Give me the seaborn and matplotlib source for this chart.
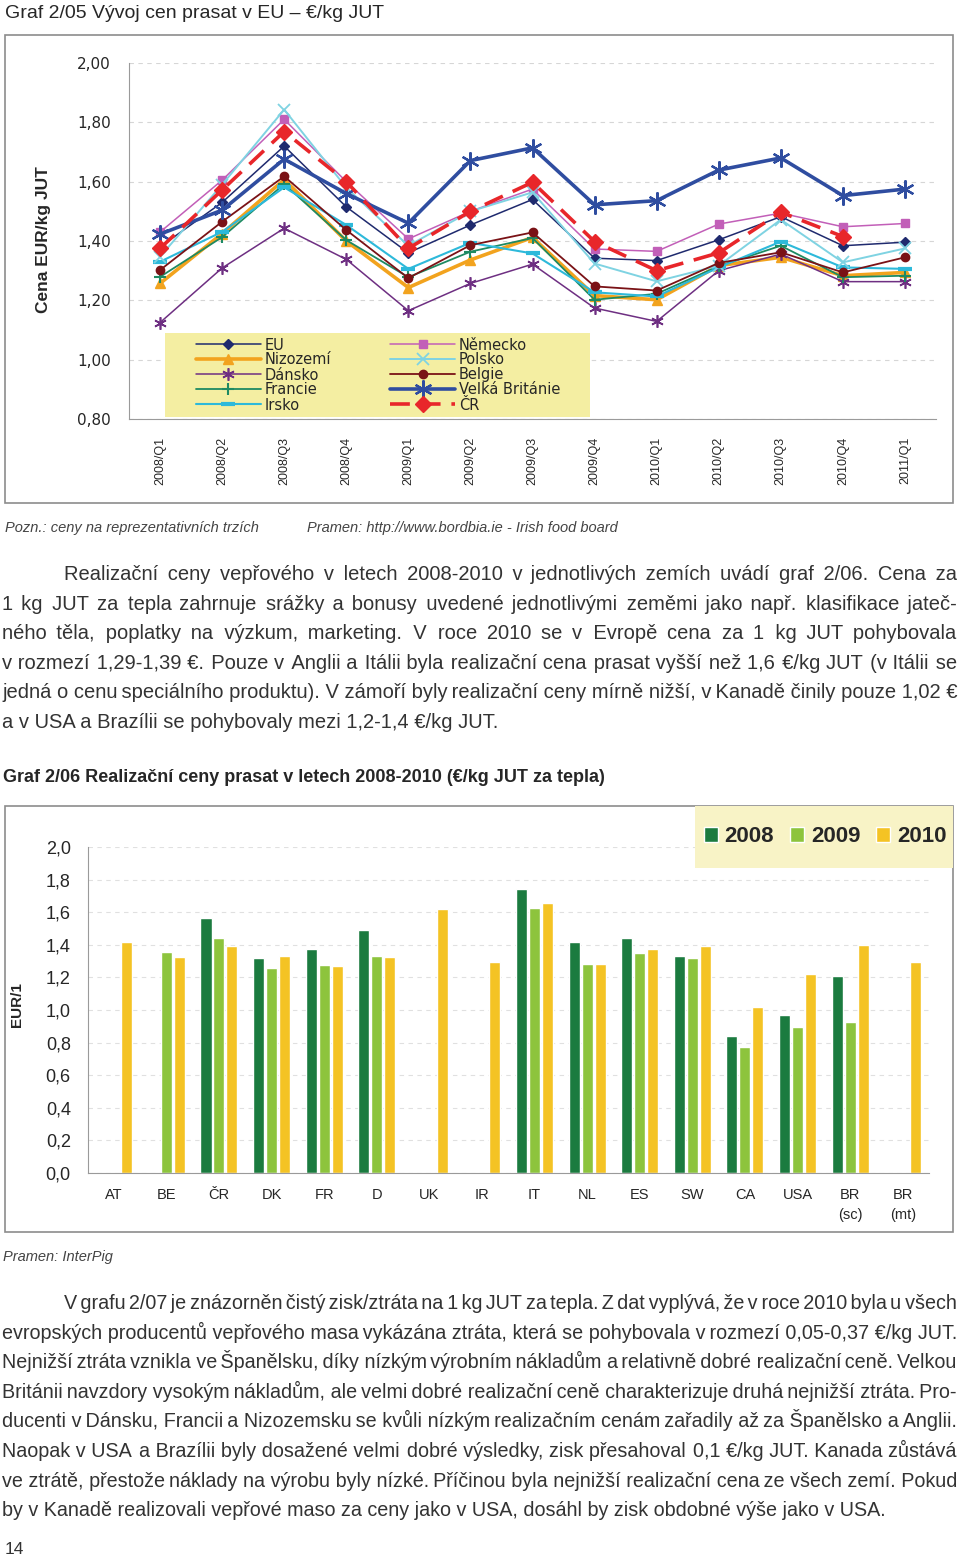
import numpy as np
import pandas as pd
import matplotlib
matplotlib.use("Agg")
import matplotlib.pyplot as plt
import seaborn as sns
from matplotlib.patches import Rectangle
from matplotlib.ticker import FuncFormatter

# ---- Graf 2/05: quarterly prices, EUR/kg ----
quarters = ["2008/Q1", "2008/Q2", "2008/Q3", "2008/Q4", "2009/Q1", "2009/Q2", "2009/Q3",
            "2009/Q4", "2010/Q1", "2010/Q2", "2010/Q3", "2010/Q4", "2011/Q1"]
eu = [1.38, 1.53, 1.72, 1.515, 1.36, 1.454, 1.54, 1.342, 1.334, 1.404, 1.482, 1.384, 1.396]
nizozemi = [1.257, 1.425, 1.607, 1.40, 1.243, 1.336, 1.412, 1.216, 1.202, 1.317, 1.345, 1.283, 1.294]
dansko = [1.125, 1.309, 1.443, 1.338, 1.165, 1.257, 1.322, 1.174, 1.129, 1.30, 1.356, 1.263, 1.263]
francie = [1.279, 1.413, 1.592, 1.403, 1.278, 1.364, 1.41, 1.202, 1.222, 1.315, 1.384, 1.278, 1.283]
irsko = [1.33, 1.431, 1.581, 1.454, 1.306, 1.394, 1.358, 1.227, 1.213, 1.311, 1.398, 1.311, 1.306]
nemecko = [1.43, 1.605, 1.81, 1.60, 1.407, 1.50, 1.575, 1.373, 1.365, 1.457, 1.494, 1.448, 1.459]
polsko = [1.347, 1.59, 1.843, 1.58, 1.384, 1.50, 1.564, 1.324, 1.264, 1.317, 1.472, 1.328, 1.375]
belgie = [1.302, 1.465, 1.618, 1.437, 1.275, 1.386, 1.429, 1.247, 1.233, 1.326, 1.362, 1.294, 1.345]
velka_britanie = [1.423, 1.504, 1.676, 1.56, 1.46, 1.671, 1.714, 1.522, 1.536, 1.639, 1.68, 1.553, 1.575]
cr = [1.375, 1.572, 1.769, 1.60, 1.375, 1.50, 1.598, 1.398, 1.30, 1.36, 1.497, 1.415, np.nan]

# ---- Graf 2/06: yearly prices by country ----
countries = ["AT", "BE", "ČR", "DK", "FR", "D", "UK", "IR", "IT", "NL", "ES", "SW", "CA", "USA",
             "BR\n(sc)", "BR\n(mt)"]
years = ["2008", "2009", "2010"]
val_2008 = [np.nan, np.nan, 1.562, 1.317, 1.372, 1.489, np.nan, np.nan, 1.74, 1.415, 1.44, 1.333,
            0.838, 0.967, 1.211, np.nan]
val_2009 = [np.nan, 1.358, 1.44, 1.26, 1.276, 1.333, np.nan, np.nan, 1.628, 1.284, 1.35, 1.317,
            0.771, 0.894, 0.928, np.nan]
val_2010 = [1.419, 1.327, 1.39, 1.333, 1.268, 1.325, 1.62, 1.292, 1.658, 1.284, 1.374, 1.39,
            1.016, 1.221, 1.399, 1.292]

para1 = [
    "Realizační ceny vepřového v letech 2008-2010 v jednotlivých zemích uvádí graf 2/06. Cena za",
    "1 kg JUT za tepla zahrnuje srážky a bonusy uvedené jednotlivými zeměmi jako např. klasifikace jateč-",
    "ného těla, poplatky na výzkum, marketing. V roce 2010 se v Evropě cena za 1 kg JUT pohybovala",
    "v rozmezí 1,29-1,39 €. Pouze v Anglii a Itálii byla realizační cena prasat vyšší než 1,6 €/kg JUT (v Itálii se",
    "jedná o cenu speciálního produktu). V zámoří byly realizační ceny mírně nižší, v Kanadě činily pouze 1,02 €",
    "a v USA a Brazílii se pohybovaly mezi 1,2-1,4 €/kg JUT.",
]
para2 = [
    "V grafu 2/07 je znázorněn čistý zisk/ztráta na 1 kg JUT za tepla. Z dat vyplývá, že v roce 2010 byla u všech",
    "evropských producentů vepřového masa vykázána ztráta, která se pohybovala v rozmezí 0,05-0,37 €/kg JUT.",
    "Nejnižší ztráta vznikla ve Španělsku, díky nízkým výrobním nákladům a relativně dobré realizační ceně. Velkou",
    "Británii navzdory vysokým nákladům, ale velmi dobré realizační ceně charakterizuje druhá nejnižší ztráta. Pro-",
    "ducenti v Dánsku, Francii a Nizozemsku se kvůli nízkým realizačním cenám zařadily až za Španělsko a Anglii.",
    "Naopak v USA a Brazílii byly dosažené velmi dobré výsledky, zisk přesahoval 0,1 €/kg JUT. Kanada zůstává",
    "ve ztrátě, přestože náklady na výrobu byly nízké. Příčinou byla nejnižší realizační cena ze všech zemí. Pokud",
    "by v Kanadě realizovali vepřové maso za ceny jako v USA, dosáhl by zisk obdobné výše jako v USA.",
]

sns.set_style("white")
plt.rcParams["font.family"] = ["Liberation Sans", "DejaVu Sans"]

W, H = 960, 1562
fig = plt.figure(figsize=(W / 100, H / 100), dpi=100)


def fx(x):
    return x / W


def fy(y):
    return 1 - y / H


def comma(fmt):
    return FuncFormatter(lambda v, p: format(v, fmt).replace(".", ","))


def paragraph(lines, base_y, dy, size, color, family, min_gap=0.12, indent=62, left=2, right=957):
    # justified block: each line is one text, word gaps built from thin/hair spaces
    r = fig.canvas.get_renderer()

    def width(s, fs):
        t = fig.text(0, 0, s, fontsize=fs, family=family)
        w = t.get_window_extent(r).width
        t.remove()
        return w

    fs = size
    while True:
        ok = True
        for i, line in enumerate(lines[:-1]):
            words = line.split()
            avail = right - left - (indent if i == 0 else 0)
            need = sum(width(w, fs) for w in words) + min_gap * fs * 100 / 72 * (len(words) - 1)
            if need > avail:
                ok = False
                break
        if ok:
            break
        fs -= 0.25

    thin = width("a\u2009a", fs) - width("aa", fs)
    hair = width("a\u200aa", fs) - width("aa", fs)
    if hair < 0.5:
        hair = thin
    for i, line in enumerate(lines):
        x0 = left + (indent if i == 0 else 0)
        y = base_y + i * dy
        if i == len(lines) - 1:
            fig.text(fx(x0), fy(y), line, fontsize=fs, family=family, color=color, va="baseline")
            continue
        words = line.split()
        ws = [width(w, fs) for w in words]
        g = (right - x0 - sum(ws)) / (len(words) - 1)
        s = words[0]
        for j in range(1, len(words)):
            desired = sum(ws[:j + 1]) + j * g
            base = width(s + words[j], fs)
            need = max(desired - base, 0)
            k = int(need // thin)
            m = int(round((need - k * thin) / hair))
            if k == 0 and m == 0:
                m = 1
            s = s + "\u2009" * k + "\u200a" * m + words[j]
        fig.text(fx(x0), fy(y), s, fontsize=fs, family=family, color=color, va="baseline")


# ================= chart 1 =================
fig.text(fx(5), fy(13), "Graf 2/05 Vývoj cen prasat v EU – €/kg JUT", fontsize=14, va="center")
fig.add_artist(Rectangle((fx(5), fy(503)), (953 - 5) / W, (503 - 35) / H, fill=False,
                         edgecolor="#8c8c8c", lw=1.2, transform=fig.transFigure))

ax1 = fig.add_axes([fx(129), fy(419), 807 / W, 356 / H])
ax1.patch.set_alpha(0)
x = np.arange(len(quarters))

series = [
    ("EU", eu, dict(color="#1F2A6E", marker="D", ms=5, lw=1.1)),
    ("Nizozemí", nizozemi, dict(color="#F2A31E", marker="^", ms=7, lw=2.6)),
    ("Dánsko", dansko, dict(color="#6E2F82", marker=(6, 2, 0), ms=9, lw=1.1, mew=1.2)),
    ("Francie", francie, dict(color="#1E8A62", marker="+", ms=9, lw=1.3, mew=1.5)),
    ("Irsko", irsko, dict(color="#2DB9DA", marker="_", ms=10, lw=1.5, mew=3)),
    ("Německo", nemecko, dict(color="#C25FB8", marker="s", ms=6, lw=1.1)),
    ("Polsko", polsko, dict(color="#7FD3E2", marker="x", ms=8, lw=1.4, mew=1.3)),
    ("Belgie", belgie, dict(color="#7A1216", marker="o", ms=6, lw=1.3)),
    ("Velká Británie", velka_britanie, dict(color="#2F4DA0", marker=(6, 2, 0), ms=13, lw=2.6, mew=1.6)),
    ("ČR", cr, dict(color="#E8262A", marker="D", ms=8, lw=2.6, linestyle=(0, (5.5, 3)))),
]
for name, vals, kw in series:
    kw = dict(kw)
    kw.setdefault("mew", 1)
    sns.lineplot(x=x, y=vals, ax=ax1, label=name, markeredgecolor=kw["color"],
                 markerfacecolor=kw["color"], sort=False, **kw)

ax1.set_xlim(-0.5, len(quarters) - 0.5)
ax1.set_ylim(0.8, 2.0)
ax1.set_yticks(np.arange(0.8, 2.01, 0.2))
ax1.yaxis.set_major_formatter(comma(".2f"))
ax1.set_xticks(x)
ax1.set_xticklabels(quarters, rotation=90, fontsize=9)
ax1.set_xticks(np.arange(0.5, len(quarters) - 0.5, 1), minor=True)
ax1.tick_params(axis="x", which="major", length=0, pad=13)
ax1.tick_params(axis="x", which="minor", length=6, color="#999999", width=0.8)
ax1.tick_params(axis="y", length=5, color="#999999", pad=8, labelsize=11)
for lab in ax1.get_yticklabels():
    lab.set_family("DejaVu Sans")
ax1.yaxis.grid(True, color="#d6d6d6", linestyle=(0, (4, 4)), lw=0.8)
ax1.set_axisbelow(True)
sns.despine(ax=ax1)
for s in ["left", "bottom"]:
    ax1.spines[s].set_color("#9a9a9a")
ax1.set_xlabel("")
ax1.set_ylabel("")
fig.text(fx(44), fy(240), "Cena EUR/kg JUT", rotation=90, fontsize=12.5, fontweight="bold",
         ha="center", va="center")

ax1.add_patch(Rectangle((fx(165), fy(417)), (590 - 165) / W, (417 - 333) / H,
                        transform=fig.transFigure, facecolor="#F4EEA2", edgecolor="none", zorder=1))
h, l = ax1.get_legend_handles_labels()
leg = ax1.legend(h, l, ncol=2, loc="center", bbox_to_anchor=(fx(378), fy(375)),
                 bbox_transform=fig.transFigure, frameon=False, borderpad=0,
                 prop={"family": "DejaVu Sans", "size": 10.5}, labelspacing=0.0,
                 handlelength=4.5, handletextpad=0.25, columnspacing=4.0)

fig.text(fx(5), fy(528), "Pozn.: ceny na reprezentativních trzích", fontsize=10.5,
         style="italic", color="#444444", va="center")
fig.text(fx(307), fy(528), "Pramen: http://www.bordbia.ie - Irish food board", fontsize=10.5,
         style="italic", color="#444444", va="center")

paragraph(para1, 580, 29.6, 14.5, "#333333", ["Liberation Sans", "DejaVu Sans"])

# ================= chart 2 =================
fig.text(fx(3), fy(778), "Graf 2/06 Realizační ceny prasat v letech 2008-2010 (€/kg JUT za tepla)",
         fontsize=13, fontweight="bold", va="center")
fig.add_artist(Rectangle((fx(5), fy(1232)), (953 - 5) / W, (1232 - 806) / H, fill=False,
                         edgecolor="#8c8c8c", lw=1.2, transform=fig.transFigure))

ax2 = fig.add_axes([fx(87.5), fy(1173), 841.5 / W, 326 / H])
ax2.patch.set_alpha(0)
df2 = pd.DataFrame({
    "country": countries * 3,
    "year": [y for y in years for _ in countries],
    "value": val_2008 + val_2009 + val_2010,
})
palette = {"2008": "#1B7B3F", "2009": "#8DC43D", "2010": "#F4C324"}
sns.barplot(data=df2, x="country", y="value", hue="year", order=countries, hue_order=years,
            palette=palette, width=0.74, gap=0.15, errorbar=None, saturation=1, ax=ax2)
ax2.set_ylim(0, 2.0)
ax2.set_yticks(np.arange(0, 2.01, 0.2))
ax2.yaxis.set_major_formatter(comma(".1f"))
ax2.set_xticks(np.arange(0.5, len(countries) - 0.5, 1), minor=True)
ax2.tick_params(axis="x", which="major", length=0, pad=11, labelsize=10.5)
ax2.tick_params(axis="x", which="minor", length=5, color="#999999", width=0.8)
ax2.tick_params(axis="y", length=5, color="#999999", pad=7, labelsize=13)
for lab in ax2.get_xticklabels():
    lab.set_linespacing(1.5)
ax2.yaxis.grid(True, color="#e0e0e0", linestyle=(0, (4, 4)), lw=0.8)
ax2.set_axisbelow(True)
sns.despine(ax=ax2)
for s in ["left", "bottom"]:
    ax2.spines[s].set_color("#9a9a9a")
ax2.set_xlabel("")
ax2.set_ylabel("")
fig.text(fx(17), fy(1005), "EUR/1", rotation=90, fontsize=11, fontweight="bold",
         ha="center", va="center")

h2, l2 = ax2.get_legend_handles_labels()
ax2.get_legend().remove()
fig.add_artist(Rectangle((fx(695), fy(868)), (953 - 695) / W, (868 - 806) / H,
                         transform=fig.transFigure, facecolor="#F8F3C6", edgecolor="none", zorder=3))
leg2 = fig.legend(h2, l2, ncol=3, loc="center", bbox_to_anchor=(fx(825), fy(837)), frameon=False,
                  prop={"weight": "bold", "size": 16}, handlelength=0.65, handleheight=0.65,
                  handletextpad=0.3, columnspacing=0.7, borderpad=0)
leg2.set_zorder(5)

fig.text(fx(3), fy(1257), "Pramen: InterPig", fontsize=10.5, style="italic", color="#444444",
         va="center")

paragraph(para2, 1309, 29.6, 15, "#333333",
          ["Liberation Sans Narrow", "Liberation Sans", "DejaVu Sans"], min_gap=0.15)

fig.text(fx(5), fy(1550), "14", fontsize=12.5, color="#333333", va="center")

fig.savefig("out.png", dpi=100)
